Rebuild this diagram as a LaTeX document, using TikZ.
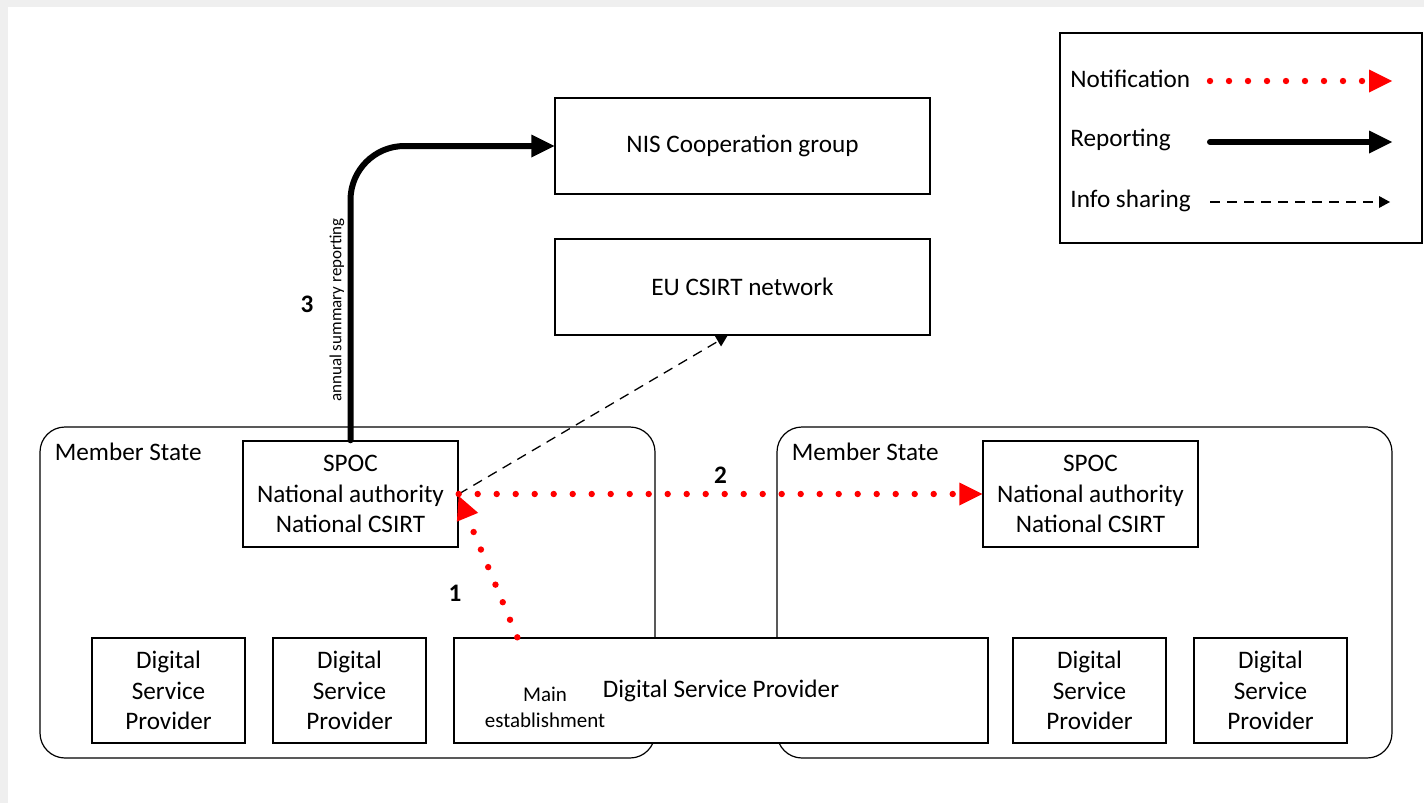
\documentclass[tikz,border=0pt]{standalone}
\usepackage{fontspec}
\setmainfont{Carlito}
\usetikzlibrary{arrows.meta,positioning}
\definecolor{pagegray}{HTML}{EFEFEF}
\definecolor{notifred}{HTML}{FF0000}
\tikzset{
  box/.style={draw, line width=0.7pt, fill=white, align=center, inner sep=0pt,
    font=\fontsize{12.6}{15.25}\selectfont},
  statebox/.style={draw, line width=0.6pt, rounded corners=12.5pt,
    minimum width=307.5pt, minimum height=165.5pt, inner sep=0pt},
  notif/.style={notifred, line width=3.2pt, line cap=round, dash pattern=on 0pt off 9.5pt,
    -{Triangle[length=11.5pt,width=11.5pt,line width=0pt]}},
  report/.style={line width=3pt, line cap=round,
    -{Triangle[length=11.5pt,width=11.5pt,line width=0pt]}},
  share/.style={line width=0.65pt, dash pattern=on 5pt off 3.5pt,
    -{Triangle[length=5.5pt,width=6pt,line width=0pt]}},
  lbl/.style={font=\fontsize{12.6}{15.25}\selectfont, inner sep=0pt},
  num/.style={text=black, font=\fontsize{12.6}{15.25}\selectfont\bfseries, inner sep=0pt},
}

\begin{document}
\begin{tikzpicture}[x=0.5pt, y={(0pt,-0.5pt)}]
\fill[pagegray] (0,0) rectangle (1424,803);
\fill[white] (8,7) rectangle (1424,803);
\useasboundingbox (0,0) rectangle (1424,803);

\node[box, minimum width=187.5pt, minimum height=48pt] (nis) at (742.5,146) {NIS Cooperation group};
\node[box, minimum width=187.5pt, minimum height=48pt] (eu) at (742.5,287) {EU CSIRT network};

\node[statebox] (stateA) at (347.5,592.5) {};
\node[statebox] (stateB) at (1084.5,592.5) {};
\node[lbl, anchor=north west] (stateAname) at ([shift={(7.5pt,-8pt)}]stateA.north west) {Member State};
\node[lbl, anchor=north west] (stateBname) at ([shift={(7.5pt,-8pt)}]stateB.north west) {Member State};

\node[box, minimum width=107.5pt, minimum height=53pt] (spocA) at (350.5,494) {SPOC\\National authority\\National CSIRT};
\node[box, minimum width=107.5pt, minimum height=53pt] (spocB) at (1090.5,494) {SPOC\\National authority\\National CSIRT};

\node[box, minimum width=76.5pt, minimum height=52.5pt] (dspA1) at (168.5,690.5) {Digital\\Service\\Provider};
\node[box, minimum width=76.5pt, minimum height=52.5pt] (dspA2) at (349.5,690.5) {Digital\\Service\\Provider};
\node[box, minimum width=267pt, minimum height=52.5pt] (dspMain) at (721,690.5) {};
\node[lbl] (dspMainname) at (721,691) {Digital Service Provider};
\node[font=\fontsize{10.5}{13}\selectfont, align=center, inner sep=0pt] (mainEst) at (545,707) {Main\\establishment};
\node[box, minimum width=76.5pt, minimum height=52.5pt] (dspB1) at (1089.5,690.5) {Digital\\Service\\Provider};
\node[box, minimum width=76.5pt, minimum height=52.5pt] (dspB2) at (1270.5,690.5) {Digital\\Service\\Provider};

\draw[report, rounded corners=27pt] (spocA.north) |- (nis.west);
\node[font=\fontsize{8.5}{10}\selectfont, rotate=90, inner sep=0pt] (annual) at (337,310) {annual summary reporting};
\node[num] (three) at (307,304) {3};

\draw[share] (spocA.east) -- ([xshift=-7.5pt]eu.south);
\draw[notif] (spocA.east) -- node[num, above=3.5pt] (two) {2} (spocB.west);
\coordinate (estTop) at ([xshift=32pt]dspMain.north west);
\draw[notif] (estTop) -- ([yshift=-1pt]spocA.east);
\node[num] (one) at (455,593) {1};

\node[draw, line width=0.7pt, minimum width=181pt, minimum height=105pt, inner sep=0pt] (legend) at (1241,138) {};
\node[lbl, anchor=west] (legNotif) at (1070,79) {Notification};
\node[lbl, anchor=west] (legReport) at (1070,140) {Reporting};
\node[lbl, anchor=west] (legShare) at (1070,201) {Info sharing};
\coordinate (notifA) at (1210,81);
\coordinate (notifB) at (1392,81);
\coordinate (reportA) at (1210,142);
\coordinate (reportB) at (1392,142);
\coordinate (shareA) at (1210,202);
\coordinate (shareB) at (1390,202);
\draw[notif] (notifA) -- (notifB);
\draw[report] (reportA) -- (reportB);
\draw[share] (shareA) -- (shareB);
\end{tikzpicture}
\end{document}
